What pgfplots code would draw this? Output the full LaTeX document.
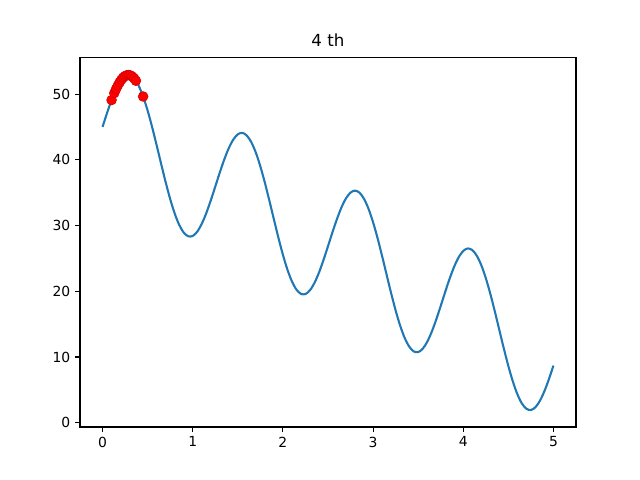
\documentclass[border=0pt]{standalone}
\usepackage{fontspec}
\setmainfont{DejaVu Sans}
\usepackage{pgfplots}
\pgfplotsset{compat=1.18}
\definecolor{mplblue}{HTML}{1F77B4}
\begin{document}
\begin{tikzpicture}
\path[use as bounding box] (-57.6pt,-38.2pt) rectangle (403.2pt,307.4pt);
\begin{axis}[
  at={(0,0)}, anchor=south west,
  scale only axis, width=357.1pt, height=265.7pt,
  xmin=-0.25, xmax=5.25, ymin=-0.65, ymax=55.5,
  xtick={0,1,2,3,4,5}, ytick={0,10,20,30,40,50},
  tick align=outside, major tick length=3.5pt,
  xtick pos=bottom, ytick pos=left,
  axis line style={line width=0.8pt}, tick style={line width=0.8pt, black},
  ticklabel style={font=\fontsize{10}{12}\selectfont},
  /pgf/number format/assume math mode=true,
  title={4 th}, title style={font=\fontsize{12}{14}\selectfont, yshift=-1pt},
  clip=false,
]
\addplot[mplblue, line width=1.5pt, smooth] coordinates {
(0.00,45.00)(0.05,47.12)(0.10,49.09)(0.15,50.77)(0.20,52.02)(0.25,52.74)(0.30,52.88)(0.35,52.39)(0.40,51.29)(0.45,49.63)
(0.50,47.49)(0.55,44.97)(0.60,42.21)(0.65,39.37)(0.70,36.59)(0.75,34.03)(0.80,31.83)(0.85,30.10)(0.90,28.93)(0.95,28.36)
(1.00,28.41)(1.05,29.06)(1.10,30.25)(1.15,31.87)(1.20,33.81)(1.25,35.92)(1.30,38.05)(1.35,40.05)(1.40,41.77)(1.45,43.08)
(1.50,43.88)(1.55,44.10)(1.60,43.69)(1.65,42.67)(1.70,41.09)(1.75,39.00)(1.80,36.52)(1.85,33.79)(1.90,30.95)(1.95,28.16)
(2.00,25.56)(2.05,23.30)(2.10,21.50)(2.15,20.25)(2.20,19.60)(2.25,19.57)(2.30,20.15)(2.35,21.26)(2.40,22.83)(2.45,24.74)
(2.50,26.84)(2.55,28.98)(2.60,31.00)(2.65,32.77)(2.70,34.14)(2.75,35.01)(2.80,35.31)(2.85,34.99)(2.90,34.05)(2.95,32.53)
(3.00,30.50)(3.05,28.07)(3.10,25.37)(3.15,22.53)(3.20,19.72)(3.25,17.09)(3.30,14.78)(3.35,12.92)(3.40,11.59)(3.45,10.85)
(3.50,10.74)(3.55,11.24)(3.60,12.29)(3.65,13.81)(3.70,15.68)(3.75,17.76)(3.80,19.90)(3.85,21.95)(3.90,23.76)(3.95,25.19)
(4.00,26.13)(4.05,26.51)(4.10,26.27)(4.15,25.41)(4.20,23.97)(4.25,22.00)(4.30,19.62)(4.35,16.94)(4.40,14.11)(4.45,11.29)
(4.50,8.63)(4.55,6.27)(4.60,4.34)(4.65,2.93)(4.70,2.12)(4.75,1.93)(4.80,2.34)(4.85,3.33)(4.90,4.79)(4.95,6.62)
(5.00,8.68)
};
\addplot[only marks, mark=*, mark size=3.5pt, color=red, mark options={draw=red!85!black, fill=red, line width=0.5pt}] coordinates {
(0.10,49.09)(0.13,50.14)(0.15,50.77)(0.17,51.32)(0.19,51.80)(0.21,52.20)(0.23,52.52)(0.25,52.74)
(0.27,52.87)(0.29,52.90)(0.31,52.83)(0.33,52.66)(0.35,52.39)(0.37,52.03)(0.45,49.63)
};
\end{axis}
\end{tikzpicture}
\end{document}
